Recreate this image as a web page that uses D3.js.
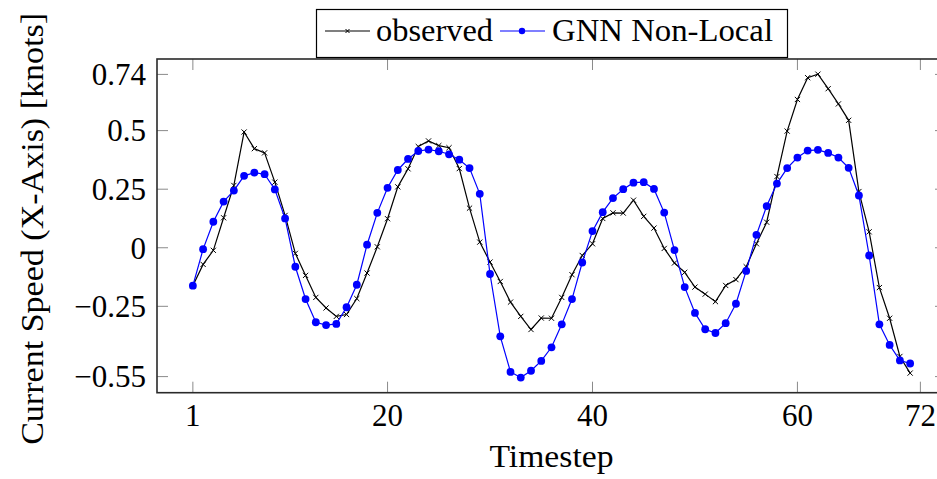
<!DOCTYPE html>
<html>
<head>
<meta charset="utf-8">
<script src="https://cdn.jsdelivr.net/npm/d3@7"></script>
<style>
  html, body { margin: 0; padding: 0; background: #fff; overflow: hidden; }
  svg { display: block; font-family: "Liberation Serif", "DejaVu Serif", serif; }
</style>
</head>
<body>
<svg id="chart"></svg>
<script>
const timesteps = d3.range(1, 72);
const observed = [
  -0.162, -0.071, -0.011, 0.128, 0.266, 0.494, 0.423, 0.405, 0.280, 0.138,
  -0.024, -0.118, -0.212, -0.257, -0.293, -0.285, -0.217, -0.108, 0.004, 0.124,
  0.260, 0.337, 0.432, 0.456, 0.436, 0.427, 0.338, 0.169, 0.024, -0.061,
  -0.144, -0.232, -0.293, -0.349, -0.300, -0.301, -0.212, -0.115, -0.033, 0.017,
  0.125, 0.149, 0.148, 0.203, 0.134, 0.084, -0.003, -0.065, -0.105, -0.168,
  -0.198, -0.230, -0.161, -0.136, -0.081, 0.017, 0.109, 0.304, 0.498, 0.633,
  0.726, 0.741, 0.679, 0.614, 0.544, 0.240, 0.068, -0.170, -0.301, -0.464,
  -0.535
];
const gnnNonLocal = [
  -0.162, -0.006, 0.111, 0.197, 0.244, 0.307, 0.321, 0.314, 0.249, 0.125,
  -0.081, -0.219, -0.318, -0.330, -0.325, -0.254, -0.158, 0.013, 0.149, 0.256,
  0.332, 0.379, 0.413, 0.419, 0.412, 0.399, 0.376, 0.340, 0.230, -0.112,
  -0.378, -0.530, -0.554, -0.525, -0.483, -0.425, -0.327, -0.219, -0.063, 0.071,
  0.152, 0.212, 0.250, 0.278, 0.280, 0.251, 0.150, -0.010, -0.168, -0.278,
  -0.348, -0.364, -0.322, -0.239, -0.099, 0.055, 0.178, 0.274, 0.340, 0.385,
  0.415, 0.418, 0.405, 0.385, 0.341, 0.223, -0.033, -0.327, -0.415, -0.481,
  -0.494
];
const xTicks = [1, 20, 40, 60, 72];
const yTicks = [0.74, 0.5, 0.25, 0, -0.25, -0.55];
const seriesNames = ["observed", "GNN Non-Local"];

(() => {
  const width = 937;
  const height = 479;
  const plot = { left: 157, right: 946, top: 59, bottom: 392.7 };
  const fontSize = 31;

  const svg = d3.select("#chart").attr("width", width).attr("height", height);
  svg.append("rect").attr("width", width).attr("height", height).attr("fill", "#fff");

  // pgfplots style: limits enlarged by 5% of the data range
  const [xMin, xMax] = d3.extent(timesteps);
  const xPad = (xMax - xMin) * 0.05;
  const x = d3.scaleLinear()
    .domain([xMin - xPad, xMax + xPad])
    .range([plot.left, plot.right]);

  const all = observed.concat(gnnNonLocal);
  const [yMin, yMax] = d3.extent(all);
  const yPad = (yMax - yMin) * 0.05;
  const y = d3.scaleLinear()
    .domain([yMin - yPad, yMax + yPad])
    .range([plot.bottom, plot.top]);

  const tickLen = 11;
  const tickColor = "#8a8a8a";

  // ticks on all four sides, pointing inward
  const ticks = svg.append("g").attr("stroke", tickColor).attr("stroke-width", 1);
  xTicks.forEach((t) => {
    ticks.append("line").attr("x1", x(t)).attr("x2", x(t))
      .attr("y1", plot.bottom).attr("y2", plot.bottom - tickLen);
    ticks.append("line").attr("x1", x(t)).attr("x2", x(t))
      .attr("y1", plot.top).attr("y2", plot.top + tickLen);
  });
  yTicks.forEach((t) => {
    ticks.append("line").attr("x1", plot.left).attr("x2", plot.left + tickLen)
      .attr("y1", y(t)).attr("y2", y(t));
    ticks.append("line").attr("x1", plot.right).attr("x2", plot.right - tickLen)
      .attr("y1", y(t)).attr("y2", y(t));
  });

  // tick labels
  const fmtY = (d) => (d < 0 ? "\u2212" + Math.abs(d) : String(d));
  svg.append("g").selectAll("text").data(yTicks).join("text")
    .attr("x", plot.left - 11)
    .attr("y", (d) => y(d))
    .attr("dy", "0.35em")
    .attr("text-anchor", "end")
    .attr("font-size", fontSize)
    .text(fmtY);

  svg.append("g").selectAll("text").data(xTicks).join("text")
    .attr("x", (d) => x(d))
    .attr("y", plot.bottom + 33)
    .attr("text-anchor", "middle")
    .attr("font-size", fontSize)
    .text((d) => d);

  // axis labels
  const cx = (plot.left + plot.right) / 2;
  svg.append("text")
    .attr("x", cx).attr("y", 467)
    .attr("text-anchor", "middle")
    .attr("font-size", fontSize)
    .attr("textLength", 124).attr("lengthAdjust", "spacingAndGlyphs")
    .text("Timestep");

  svg.append("text")
    .attr("transform", `translate(43,${(plot.top + plot.bottom) / 2 + 3}) rotate(-90)`)
    .attr("text-anchor", "middle")
    .attr("font-size", fontSize)
    .attr("textLength", 432).attr("lengthAdjust", "spacingAndGlyphs")
    .text("Current Speed (X-Axis) [knots]");

  // series
  const line = d3.line().x((d, i) => x(timesteps[i])).y((d) => y(d));

  svg.append("path").datum(observed)
    .attr("fill", "none").attr("stroke", "#000").attr("stroke-width", 1.2)
    .attr("d", line);

  const xs = 2.6;
  svg.append("g").attr("stroke", "#000").attr("stroke-width", 1)
    .selectAll("path").data(observed).join("path")
    .attr("d", (d, i) => {
      const px = x(timesteps[i]);
      const py = y(d);
      return `M${px - xs},${py - xs}L${px + xs},${py + xs}M${px - xs},${py + xs}L${px + xs},${py - xs}`;
    });

  svg.append("path").datum(gnnNonLocal)
    .attr("fill", "none").attr("stroke", "#0000ff").attr("stroke-width", 1.2)
    .attr("d", line);

  svg.append("g").selectAll("circle").data(gnnNonLocal).join("circle")
    .attr("cx", (d, i) => x(timesteps[i]))
    .attr("cy", (d) => y(d))
    .attr("r", 3.9)
    .attr("fill", "#0000ff");

  // frame
  svg.append("rect")
    .attr("x", plot.left).attr("y", plot.top)
    .attr("width", plot.right - plot.left).attr("height", plot.bottom - plot.top)
    .attr("fill", "none").attr("stroke", "#2a2a2a").attr("stroke-width", 1.6);

  // legend
  const lg = svg.append("g");
  lg.append("rect")
    .attr("x", 316.5).attr("y", 9.5).attr("width", 471).attr("height", 48)
    .attr("fill", "#fff").attr("stroke", "#000").attr("stroke-width", 1.2);

  const lgY = 31;
  lg.append("line").attr("x1", 325).attr("x2", 370).attr("y1", lgY).attr("y2", lgY)
    .attr("stroke", "#000").attr("stroke-width", 1.2);
  lg.append("path")
    .attr("d", `M${347.5 - 2},${lgY - 2}L${347.5 + 2},${lgY + 2}M${347.5 - 2},${lgY + 2}L${347.5 + 2},${lgY - 2}`)
    .attr("stroke", "#000").attr("stroke-width", 1);
  lg.append("text").attr("x", 376).attr("y", 41).attr("font-size", fontSize)
    .attr("textLength", 117).attr("lengthAdjust", "spacingAndGlyphs")
    .text(seriesNames[0]);

  lg.append("line").attr("x1", 500).attr("x2", 545).attr("y1", lgY).attr("y2", lgY)
    .attr("stroke", "#0000ff").attr("stroke-width", 1.2);
  lg.append("circle").attr("cx", 522).attr("cy", lgY).attr("r", 3.2).attr("fill", "#0000ff");
  lg.append("text").attr("x", 552).attr("y", 41).attr("font-size", fontSize)
    .attr("textLength", 221).attr("lengthAdjust", "spacingAndGlyphs")
    .text(seriesNames[1]);
})();
</script>
</body>
</html>
